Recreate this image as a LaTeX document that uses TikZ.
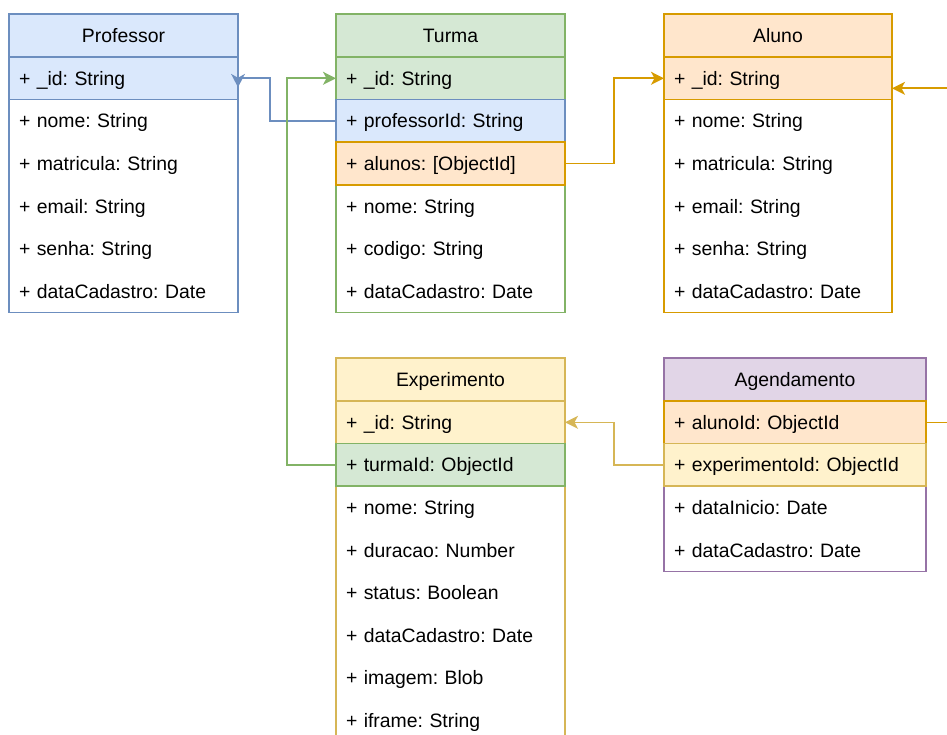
\documentclass[tikz,border=0pt]{standalone}
\usepackage{fontspec}
\setmainfont{Liberation Sans}
\usetikzlibrary{arrows.meta,calc}

\definecolor{bluefill}{HTML}{DAE8FC}   \definecolor{bluedraw}{HTML}{6C8EBF}
\definecolor{greenfill}{HTML}{D5E8D4}  \definecolor{greendraw}{HTML}{82B366}
\definecolor{orangefill}{HTML}{FFE6CC} \definecolor{orangedraw}{HTML}{D79B00}
\definecolor{yellowfill}{HTML}{FFF2CC} \definecolor{yellowdraw}{HTML}{D6B656}
\definecolor{purplefill}{HTML}{E1D5E7} \definecolor{purpledraw}{HTML}{9673A6}

\frenchspacing
\tikzset{
  every node/.style={font=\fontsize{19.4}{23}\selectfont\frenchspacing, outer sep=0pt},
  entity/.style={anchor=north west, draw=#1, fill=white, line width=1.6pt, inner sep=0pt},
  hdr/.style={anchor=north west, minimum height=43pt, inner xsep=10pt, inner ysep=0pt,
              text height=18.5pt, text depth=4.5pt, align=center, line width=1.6pt},
  row/.style={anchor=north west, minimum height=42.6pt, inner xsep=10pt, inner ysep=0pt,
              text height=18.5pt, text depth=4.5pt, align=left, line width=1.6pt},
  wA/.style={text width=209pt},
  wB/.style={text width=208pt},
  wC/.style={text width=242pt},
  blue/.style={fill=bluefill, draw=bluedraw},
  green/.style={fill=greenfill, draw=greendraw},
  orange/.style={fill=orangefill, draw=orangedraw},
  yellow/.style={fill=yellowfill, draw=yellowdraw},
  purple/.style={fill=purplefill, draw=purpledraw},
  link/.style={line width=1.6pt},
  conn/.style={link, -{Stealth[length=13pt, width=13pt, inset=3.5pt]}},
}

\begin{document}
\begin{tikzpicture}[x=1pt, y=-1pt]
\path[use as bounding box] (0,0) rectangle (947,735);
\clip (0,0) rectangle (947,735);

% Professor
\node[entity=bluedraw, minimum width=229pt, minimum height=298.6pt] (prof) at (9,14) {};
\node[hdr, wA, blue] (prof-h) at (9,14) {Professor};
\node[row, wA, blue] (prof-id) at (9,57) {+ \_id: String};
\node[row, wA] (prof-nome) at (9,99.6) {+ nome: String};
\node[row, wA] (prof-mat) at (9,142.2) {+ matricula: String};
\node[row, wA] (prof-email) at (9,184.8) {+ email: String};
\node[row, wA] (prof-senha) at (9,227.4) {+ senha: String};
\node[row, wA] (prof-data) at (9,270) {+ dataCadastro: Date};

% Turma
\node[entity=greendraw, minimum width=229pt, minimum height=298.6pt] (tur) at (336,14) {};
\node[hdr, wA, green] (tur-h) at (336,14) {Turma};
\node[row, wA, green] (tur-id) at (336,57) {+ \_id: String};
\node[row, wA, blue] (tur-pid) at (336,99.6) {+ professorId: String};
\node[row, wA, orange] (tur-al) at (336,142.2) {+ alunos: [ObjectId]};
\node[row, wA] (tur-nome) at (336,184.8) {+ nome: String};
\node[row, wA] (tur-cod) at (336,227.4) {+ codigo: String};
\node[row, wA] (tur-data) at (336,270) {+ dataCadastro: Date};

% Aluno
\node[entity=orangedraw, minimum width=228pt, minimum height=298.6pt] (alu) at (664,14) {};
\node[hdr, wB, orange] (alu-h) at (664,14) {Aluno};
\node[row, wB, orange] (alu-id) at (664,57) {+ \_id: String};
\node[row, wB] (alu-nome) at (664,99.6) {+ nome: String};
\node[row, wB] (alu-mat) at (664,142.2) {+ matricula: String};
\node[row, wB] (alu-email) at (664,184.8) {+ email: String};
\node[row, wB] (alu-senha) at (664,227.4) {+ senha: String};
\node[row, wB] (alu-data) at (664,270) {+ dataCadastro: Date};

% Experimento
\node[entity=yellowdraw, minimum width=229pt, minimum height=383.8pt] (exp) at (336,358) {};
\node[hdr, wA, yellow] (exp-h) at (336,358) {Experimento};
\node[row, wA, yellow] (exp-id) at (336,401) {+ \_id: String};
\node[row, wA, green] (exp-tid) at (336,443.6) {+ turmaId: ObjectId};
\node[row, wA] (exp-nome) at (336,486.2) {+ nome: String};
\node[row, wA] (exp-dur) at (336,528.8) {+ duracao: Number};
\node[row, wA] (exp-status) at (336,571.4) {+ status: Boolean};
\node[row, wA] (exp-data) at (336,614) {+ dataCadastro: Date};
\node[row, wA] (exp-img) at (336,656.6) {+ imagem: Blob};
\node[row, wA] (exp-ifr) at (336,699.2) {+ iframe: String};

% Agendamento
\node[entity=purpledraw, minimum width=262pt, minimum height=213.4pt] (ag) at (664,358) {};
\node[hdr, wC, purple] (ag-h) at (664,358) {Agendamento};
\node[row, wC, orange] (ag-aid) at (664,401) {+ alunoId: ObjectId};
\node[row, wC, yellow] (ag-eid) at (664,443.6) {+ experimentoId: ObjectId};
\node[row, wC] (ag-ini) at (664,486.2) {+ dataInicio: Date};
\node[row, wC] (ag-data) at (664,528.8) {+ dataCadastro: Date};

% References between collections
\draw[link, bluedraw] (tur-pid.west) -- ++(-66,0) |- (prof-id.east);
\fill[bluedraw] ($(prof-id.east)+(0,9)$) -- ($(prof-id.east)+(-7,-4.5)$)
  -- ($(prof-id.east)+(0,-0.5)$) -- ($(prof-id.east)+(7,-4.5)$) -- cycle;
\draw[conn, greendraw] (exp-tid.west) -- ++(-49,0) |- (tur-id.west);
\draw[conn, orangedraw] (tur-al.east) -- ++(49,0) |- (alu-id.west);
\draw[conn, yellowdraw] (ag-eid.west) -- ++(-50,0) |- (exp-id.east);
\draw[conn, orangedraw] (ag-aid.east) -- ++(40,0) |- ($(alu-id.east)+(0,10)$);
\end{tikzpicture}
\end{document}
